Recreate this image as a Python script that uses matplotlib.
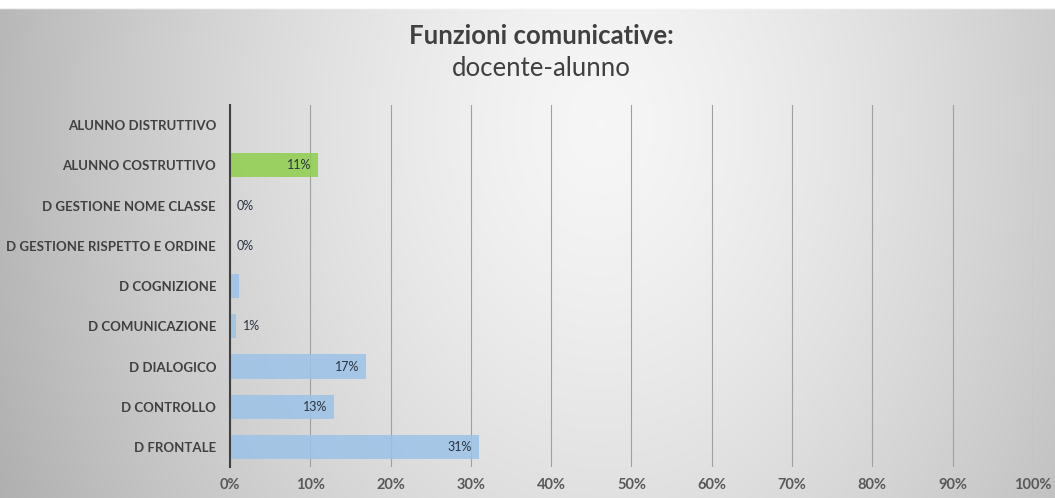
import matplotlib.pyplot as plt
import numpy as np

plt.rcParams['font.family'] = ['Lato', 'DejaVu Sans']

# categories from bottom to top
categories = ['D FRONTALE', 'D CONTROLLO', 'D DIALOGICO', 'D COMUNICAZIONE',
              'D COGNIZIONE', 'D GESTIONE RISPETTO E ORDINE',
              'D GESTIONE NOME CLASSE', 'ALUNNO COSTRUTTIVO',
              'ALUNNO DISTRUTTIVO']
values = [31, 13, 17, 0.8, 1.1, 0, 0, 11, None]
labels = ['31%', '13%', '17%', '1%', '', '0%', '0%', '11%', '']
colors = ['#9cc2e8'] * 7 + ['#8fce4c', '#9cc2e8']
xticks = np.arange(0, 101, 10)

fig = plt.figure(figsize=(10.55, 4.98), dpi=100)

# grey background, lighter in the middle, with a thin white strip on top
bg = fig.add_axes([0, 0, 1, 1], zorder=0)
yy, xx = np.mgrid[0:1:200j, 0:1:400j]
r = np.sqrt(((xx - 0.57) / 0.5) ** 2 + ((yy - 0.75) / 1.4) ** 2)
shade = 0.965 - 0.2 * np.clip(r, 0, 1.3) ** 1.4
shade[yy > 1 - 10 / 498] = 1.0
bg.imshow(np.dstack([shade] * 3), aspect='auto', extent=[0, 1, 0, 1],
          origin='lower')
bg.axis('off')

ax = fig.add_axes([0.218, 0.062, 0.761, 0.727], zorder=1)
ax.patch.set_alpha(0)

y = np.arange(len(categories))
vals = [v if v is not None else 0 for v in values]
ax.barh(y, vals, height=0.6, color=colors, alpha=0.85, zorder=2)

for yi, v, lab in zip(y, vals, labels):
    if not lab:
        continue
    if v >= 5:
        ax.text(v - 0.9, yi, lab, ha='right', va='center', fontsize=9,
                color='#2a3440', zorder=3)
    else:
        ax.text(v + 0.8, yi, lab, ha='left', va='center', fontsize=9,
                color='#2a3440', zorder=3)

ax.set_xlim(0, 100)
ax.set_ylim(-0.5, len(categories) - 0.5)
ax.set_xticks(xticks)
ax.set_xticklabels([f'{t}%' for t in xticks], fontsize=10.5,
                   fontweight='bold', color='#595959')
ax.set_yticks(y)
ax.set_yticklabels(categories, fontsize=9.5, fontweight='bold',
                   color='#404040')
ax.tick_params(length=0, pad=8)
ax.tick_params(axis='y', pad=10)
ax.grid(axis='x', color='#a0a0a0', linewidth=0.8, zorder=1)
for s in ['top', 'right', 'bottom']:
    ax.spines[s].set_visible(False)
ax.spines['left'].set_color('#404040')
ax.spines['left'].set_linewidth(1.5)
ax.spines['left'].set_zorder(3)

fig.text(0.513, 0.928, 'Funzioni comunicative:', ha='center', va='center',
         fontsize=18.5, fontweight='bold', color='#404040')
fig.text(0.513, 0.862, 'docente-alunno', ha='center', va='center',
         fontsize=18.5, color='#404040')

fig.savefig('out.png', dpi=100)
